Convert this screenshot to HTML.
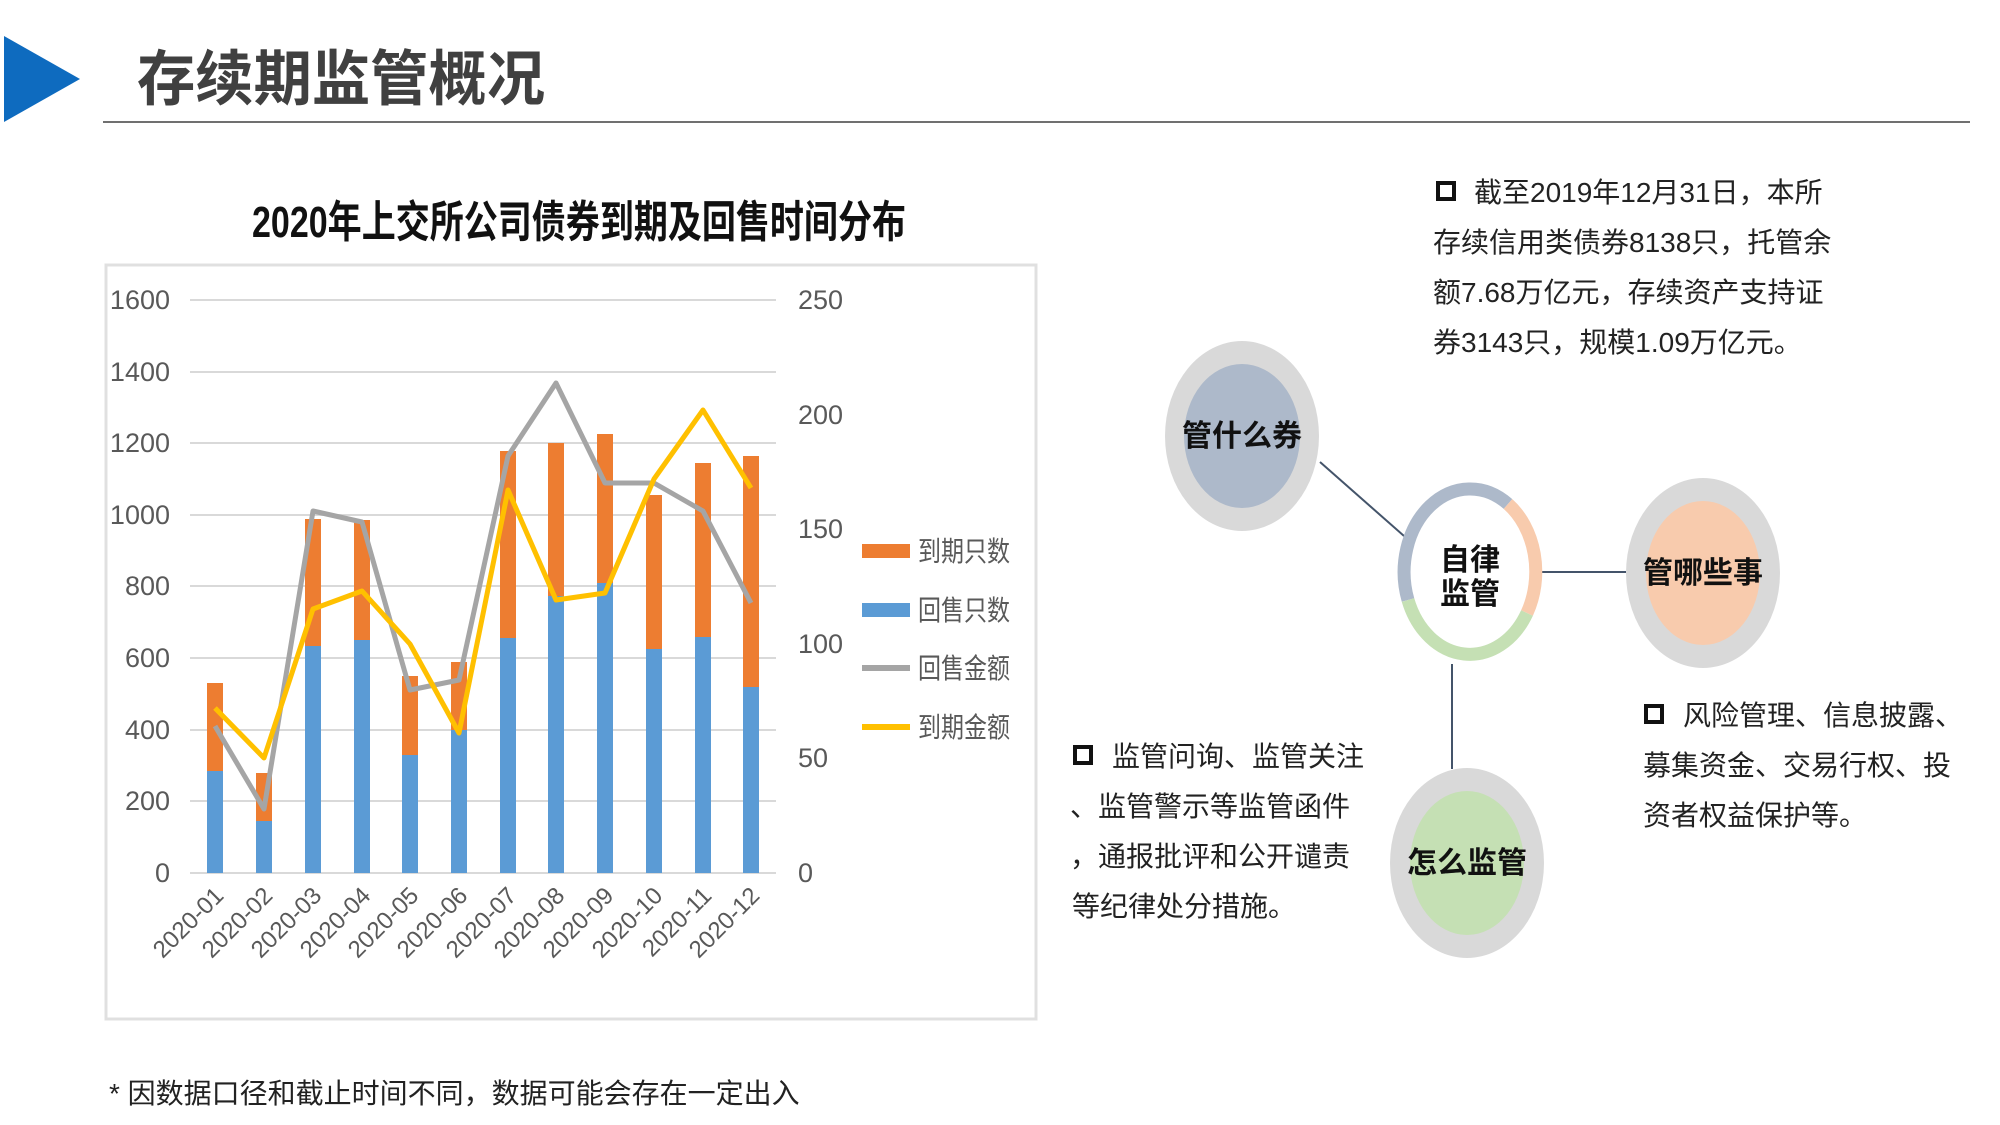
<!DOCTYPE html>
<html><head><meta charset="utf-8"><style>
html,body{margin:0;padding:0;background:#fff}
svg{display:block}
text{font-family:"Liberation Sans","Noto Sans CJK SC",sans-serif}
</style></head><body>
<svg width="2000" height="1125" viewBox="0 0 2000 1125" xmlns="http://www.w3.org/2000/svg">
<polygon points="4,36 80,79 4,122" fill="#0e6bbf"/>
<text x="137" y="100" font-size="60" font-weight="bold" fill="#404040" textLength="408" lengthAdjust="spacingAndGlyphs">存续期监管概况</text>
<line x1="103" y1="122" x2="1970" y2="122" stroke="#404040" stroke-width="1.5"/>

<text x="252" y="237" font-size="44" font-weight="bold" fill="#111" textLength="654" lengthAdjust="spacingAndGlyphs">2020年上交所公司债券到期及回售时间分布</text>
<rect x="106" y="265" width="930" height="754" fill="#fff" stroke="#e0e0e0" stroke-width="3"/>

<g stroke="#d9d9d9" stroke-width="2">
<line x1="190" y1="300" x2="776" y2="300"/><line x1="190" y1="372" x2="776" y2="372"/>
<line x1="190" y1="443" x2="776" y2="443"/><line x1="190" y1="515" x2="776" y2="515"/>
<line x1="190" y1="586" x2="776" y2="586"/><line x1="190" y1="658" x2="776" y2="658"/>
<line x1="190" y1="730" x2="776" y2="730"/><line x1="190" y1="801" x2="776" y2="801"/>
<line x1="190" y1="873" x2="776" y2="873"/>
</g>
<g font-size="27" fill="#595959" text-anchor="end">
<text x="170" y="309">1600</text><text x="170" y="381">1400</text><text x="170" y="452">1200</text>
<text x="170" y="524">1000</text><text x="170" y="595">800</text><text x="170" y="667">600</text>
<text x="170" y="739">400</text><text x="170" y="810">200</text><text x="170" y="882">0</text>
</g>
<g font-size="27" fill="#595959">
<text x="798" y="309">250</text><text x="798" y="424">200</text><text x="798" y="538">150</text>
<text x="798" y="653">100</text><text x="798" y="767">50</text><text x="798" y="882">0</text>
</g>
<g fill="#ed7d31">
<rect x="207" y="683" width="16" height="190"/><rect x="256" y="773" width="16" height="100"/>
<rect x="305" y="519" width="16" height="354"/><rect x="354" y="520" width="16" height="353"/>
<rect x="402" y="676" width="16" height="197"/><rect x="451" y="662" width="16" height="211"/>
<rect x="500" y="451" width="16" height="422"/><rect x="548" y="443" width="16" height="430"/>
<rect x="597" y="434" width="16" height="439"/><rect x="646" y="495" width="16" height="378"/>
<rect x="695" y="463" width="16" height="410"/><rect x="743" y="456" width="16" height="417"/>
</g>
<g fill="#5b9bd5">
<rect x="207" y="771" width="16" height="102"/><rect x="256" y="821" width="16" height="52"/>
<rect x="305" y="646" width="16" height="227"/><rect x="354" y="640" width="16" height="233"/>
<rect x="402" y="755" width="16" height="118"/><rect x="451" y="730" width="16" height="143"/>
<rect x="500" y="638" width="16" height="235"/><rect x="548" y="596" width="16" height="277"/>
<rect x="597" y="583" width="16" height="290"/><rect x="646" y="649" width="16" height="224"/>
<rect x="695" y="637" width="16" height="236"/><rect x="743" y="687" width="16" height="186"/>
</g>
<polyline fill="none" stroke="#a5a5a5" stroke-width="5" stroke-linejoin="round"
 points="215,726 264,809 313,511 362,522 410,690 459,680 508,456 556,383 605,483 654,483 703,511 751,603"/>
<polyline fill="none" stroke="#ffc000" stroke-width="5" stroke-linejoin="round"
 points="215,708 264,758 313,609 362,591 410,644 459,733 508,490 556,600 605,593 654,479 703,410 751,488"/>
<g font-size="24" fill="#595959" text-anchor="end">
<text transform="translate(225,897) rotate(-45)">2020-01</text>
<text transform="translate(274,897) rotate(-45)">2020-02</text>
<text transform="translate(323,897) rotate(-45)">2020-03</text>
<text transform="translate(372,897) rotate(-45)">2020-04</text>
<text transform="translate(420,897) rotate(-45)">2020-05</text>
<text transform="translate(469,897) rotate(-45)">2020-06</text>
<text transform="translate(518,897) rotate(-45)">2020-07</text>
<text transform="translate(566,897) rotate(-45)">2020-08</text>
<text transform="translate(615,897) rotate(-45)">2020-09</text>
<text transform="translate(664,897) rotate(-45)">2020-10</text>
<text transform="translate(713,897) rotate(-45)">2020-11</text>
<text transform="translate(761,897) rotate(-45)">2020-12</text>
</g>
<rect x="862" y="544" width="48" height="14" fill="#ed7d31"/>
<rect x="862" y="603" width="48" height="14" fill="#5b9bd5"/>
<rect x="862" y="665" width="48" height="6" fill="#a5a5a5"/>
<rect x="862" y="724" width="48" height="6" fill="#ffc000"/>
<g font-size="28" fill="#595959">
<text x="918" y="561" textLength="92" lengthAdjust="spacingAndGlyphs">到期只数</text>
<text x="918" y="620" textLength="92" lengthAdjust="spacingAndGlyphs">回售只数</text>
<text x="918" y="678" textLength="92" lengthAdjust="spacingAndGlyphs">回售金额</text>
<text x="918" y="737" textLength="92" lengthAdjust="spacingAndGlyphs">到期金额</text>
</g>

<text x="109" y="1103" font-size="28" fill="#222">* 因数据口径和截止时间不同，数据可能会存在一定出入</text>

<g stroke="#44546a" stroke-width="2">
<line x1="1320" y1="462" x2="1404" y2="536"/>
<line x1="1542" y1="572" x2="1626" y2="572"/>
<line x1="1452" y1="664" x2="1452" y2="769"/>
</g>
<ellipse cx="1242" cy="436" rx="77" ry="95" fill="#d9d9d9"/>
<ellipse cx="1242" cy="436" rx="58" ry="72" fill="#adb9ca"/>
<ellipse cx="1703" cy="573" rx="77" ry="95" fill="#d9d9d9"/>
<ellipse cx="1703" cy="573" rx="57" ry="72" fill="#f8cbad"/>
<ellipse cx="1467" cy="863" rx="77" ry="95" fill="#d9d9d9"/>
<ellipse cx="1467" cy="863" rx="57" ry="72" fill="#c5e0b4"/>
<g fill="none" stroke-width="13">
<path d="M1408,600 A66,83 0 0 1 1508,504" stroke="#adb9ca"/>
<path d="M1508,504 A66,83 0 0 1 1527,613" stroke="#f8cbad"/>
<path d="M1527,613 A66,83 0 0 1 1408,600" stroke="#c5e0b4"/>
</g>
<g font-size="30" font-weight="bold" fill="#111" text-anchor="middle">
<text x="1242" y="446">管什么券</text>
<text x="1703" y="583">管哪些事</text>
<text x="1467" y="873">怎么监管</text>
<text x="1470" y="570">自律</text>
<text x="1470" y="604">监管</text>
</g>
<g font-size="28" fill="#222">
<rect x="1438" y="183" width="16" height="16" fill="none" stroke="#111" stroke-width="4"/>
<text x="1474" y="202">截至2019年12月31日，本所</text>
<text x="1433" y="252">存续信用类债券8138只，托管余</text>
<text x="1433" y="302">额7.68万亿元，存续资产支持证</text>
<text x="1433" y="352">券3143只，规模1.09万亿元。</text>
<rect x="1075" y="747" width="16" height="16" fill="none" stroke="#111" stroke-width="4"/>
<text x="1112" y="766">监管问询、监管关注</text>
<text x="1070" y="816">、监管警示等监管函件</text>
<text x="1070" y="866">，通报批评和公开谴责</text>
<text x="1072" y="916">等纪律处分措施。</text>
<rect x="1646" y="706" width="16" height="16" fill="none" stroke="#111" stroke-width="4"/>
<text x="1683" y="725">风险管理、信息披露、</text>
<text x="1643" y="775">募集资金、交易行权、投</text>
<text x="1643" y="825">资者权益保护等。</text>
</g>
</svg>
</body></html>
